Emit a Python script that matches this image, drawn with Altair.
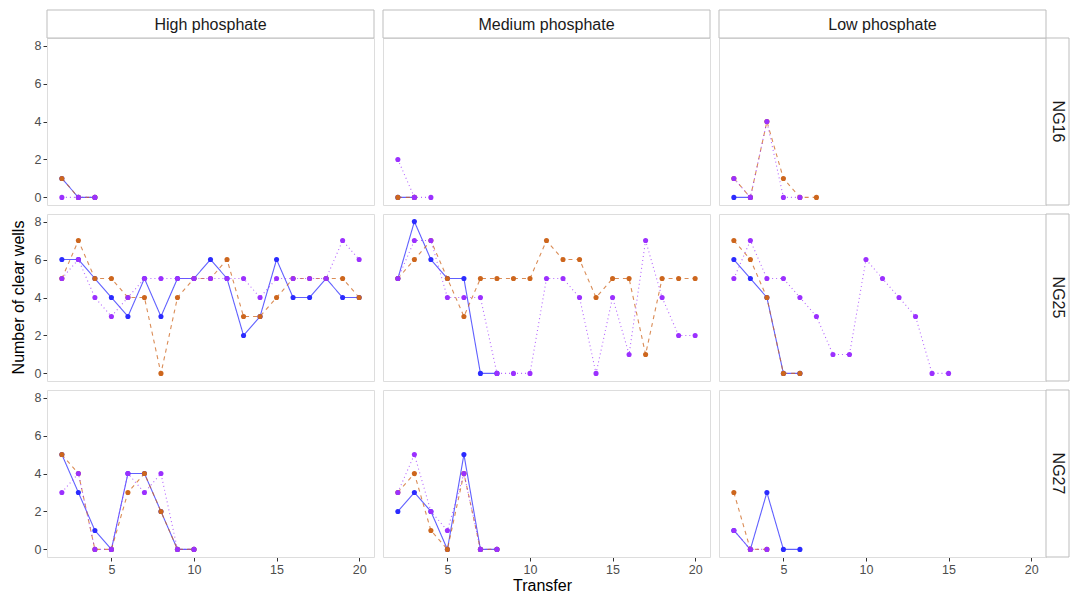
import altair as alt
import pandas as pd

phos_levels = ["High phosphate", "Medium phosphate", "Low phosphate"]
strains = ["NG16", "NG25", "NG27"]
series_names = ["A", "B", "C"]
series_colors = ["#2b2bff", "#cd661d", "#9b30ff"]
series_dashes = [[1, 0], [4, 4], [1, 3]]
x_title = "Transfer"
y_title = "Number of clear wells"
x_ticks = [5, 10, 15, 20]
y_ticks = [0, 2, 4, 6, 8]

# values start at transfer 2
high_ng16_a = [1, 0, 0]
high_ng16_b = [1, 0, 0]
high_ng16_c = [0, 0, 0]
med_ng16_a = [0, 0]
med_ng16_b = [0, 0]
med_ng16_c = [2, 0, 0]
low_ng16_a = [0, 0]
low_ng16_b = [1, 0, 4, 1, 0, 0]
low_ng16_c = [1, 0, 4, 0, 0]

high_ng25_a = [6, 6, 5, 4, 3, 5, 3, 5, 5, 6, 5, 2, 3, 6, 4, 4, 5, 4, 4]
high_ng25_b = [5, 7, 5, 5, 4, 4, 0, 4, 5, 5, 6, 3, 3, 4, 5, 5, 5, 5, 4]
high_ng25_c = [5, 6, 4, 3, 4, 5, 5, 5, 5, 5, 5, 5, 4, 5, 5, 5, 5, 7, 6]
med_ng25_a = [5, 8, 6, 5, 5, 0, 0]
med_ng25_b = [5, 6, 7, 5, 3, 5, 5, 5, 5, 7, 6, 6, 4, 5, 5, 1, 5, 5, 5]
med_ng25_c = [5, 7, 7, 4, 4, 4, 0, 0, 0, 5, 5, 4, 0, 4, 1, 7, 4, 2, 2]
low_ng25_a = [6, 5, 4, 0, 0]
low_ng25_b = [7, 6, 4, 0, 0]
low_ng25_c = [5, 7, 5, 5, 4, 3, 1, 1, 6, 5, 4, 3, 0, 0]

high_ng27_a = [5, 3, 1, 0, 4, 4, 2, 0, 0]
high_ng27_b = [5, 4, 0, 0, 3, 4, 2, 0, 0]
high_ng27_c = [3, 4, 0, 0, 4, 3, 4, 0, 0]
med_ng27_a = [2, 3, 2, 0, 5, 0, 0]
med_ng27_b = [3, 4, 1, 0, 4, 0, 0]
med_ng27_c = [3, 5, 2, 1, 4, 0, 0]
low_ng27_a = [1, 0, 3, 0, 0]
low_ng27_b = [3, 0, 0]
low_ng27_c = [1, 0, 0]

table = {
    ("High phosphate", "NG16"): [high_ng16_a, high_ng16_b, high_ng16_c],
    ("Medium phosphate", "NG16"): [med_ng16_a, med_ng16_b, med_ng16_c],
    ("Low phosphate", "NG16"): [low_ng16_a, low_ng16_b, low_ng16_c],
    ("High phosphate", "NG25"): [high_ng25_a, high_ng25_b, high_ng25_c],
    ("Medium phosphate", "NG25"): [med_ng25_a, med_ng25_b, med_ng25_c],
    ("Low phosphate", "NG25"): [low_ng25_a, low_ng25_b, low_ng25_c],
    ("High phosphate", "NG27"): [high_ng27_a, high_ng27_b, high_ng27_c],
    ("Medium phosphate", "NG27"): [med_ng27_a, med_ng27_b, med_ng27_c],
    ("Low phosphate", "NG27"): [low_ng27_a, low_ng27_b, low_ng27_c],
}

rows = []
for si, s in enumerate(series_names):
    for (p, st), lists in table.items():
        for i, v in enumerate(lists[si]):
            rows.append({"phos": p, "strain": st, "series": s, "transfer": i + 2, "wells": v})
df = pd.DataFrame(rows)

W, H = 327, 167
STRIP = 28
RSTRIP = 23
FONT = "Liberation Sans"

axis_common = dict(grid=False, domain=False, tickColor="#333333", tickSize=4, labelColor="#4d4d4d",
                   labelFontSize=12.5, labelFont=FONT, labelPadding=2)
x_enc = alt.X("transfer:Q", title=None,
              scale=alt.Scale(domain=[1.1, 20.9], nice=False, zero=False),
              axis=alt.Axis(values=x_ticks, **axis_common))
y_enc = alt.Y("wells:Q", title=None,
              scale=alt.Scale(domain=[-0.4, 8.4], nice=False, zero=False),
              axis=alt.Axis(values=y_ticks, **axis_common))
color_enc = alt.Color("series:N", scale=alt.Scale(domain=series_names, range=series_colors), legend=None)

lines = alt.Chart().mark_line(strokeWidth=1.1, opacity=0.75).encode(
    x=x_enc, y=y_enc, color=color_enc,
    strokeDash=alt.StrokeDash("series:N", scale=alt.Scale(domain=series_names, range=series_dashes), legend=None),
)
points = alt.Chart().mark_circle(size=26, opacity=1).encode(
    x=x_enc, y=y_enc, color=color_enc,
)

top_base = alt.Chart().transform_filter(alt.datum.strain == "NG16").transform_aggregate(
    n="count()", groupby=["phos", "strain"])
top_rect = top_base.mark_rect(fill="white", stroke="#bdbdbd", strokeWidth=1).encode(
    x=alt.value(0), x2=alt.value(W), y=alt.value(-STRIP), y2=alt.value(0))
top_text = top_base.mark_text(font=FONT, fontSize=16, color="#1a1a1a", baseline="middle", align="center").encode(
    x=alt.value(W / 2), y=alt.value(-STRIP / 2 + 1), text="phos:N")

right_base = alt.Chart().transform_filter(alt.datum.phos == "Low phosphate").transform_aggregate(
    n="count()", groupby=["phos", "strain"])
right_rect = right_base.mark_rect(fill="white", stroke="#bdbdbd", strokeWidth=1).encode(
    x=alt.value(W), x2=alt.value(W + RSTRIP), y=alt.value(0), y2=alt.value(H))
right_text = right_base.mark_text(font=FONT, fontSize=16, color="#1a1a1a", baseline="middle", align="center",
                                  angle=90).encode(
    x=alt.value(W + RSTRIP / 2), y=alt.value(H / 2), text="strain:N")

ytitle_base = alt.Chart().transform_filter(
    (alt.datum.strain == "NG25") & (alt.datum.phos == "High phosphate")
).transform_aggregate(n="count()", groupby=["phos", "strain"])
ytitle = ytitle_base.mark_text(font=FONT, fontSize=16, color="#000000", baseline="middle", align="center",
                               angle=270).encode(
    x=alt.value(-28), y=alt.value(H / 2), text=alt.value(y_title))

xtitle_base = alt.Chart().transform_filter(
    (alt.datum.strain == "NG27") & (alt.datum.phos == "Medium phosphate")
).transform_aggregate(n="count()", groupby=["phos", "strain"])
xtitle = xtitle_base.mark_text(font=FONT, fontSize=16, color="#000000", baseline="middle", align="center").encode(
    x=alt.value(W / 2 - 4), y=alt.value(H + 29), text=alt.value(x_title))

chart = alt.layer(lines, points, top_rect, top_text, right_rect, right_text, ytitle, xtitle).properties(
    width=W, height=H
).facet(
    row=alt.Row("strain:N", sort=strains, header=alt.Header(labels=False, title=None)),
    column=alt.Column("phos:N", sort=phos_levels, header=alt.Header(labels=False, title=None)),
    data=df,
    spacing={"row": 9, "column": 9},
    bounds="flush",
).properties(
    padding={"left": 10, "top": 9, "right": 0, "bottom": 2}
).configure_view(
    stroke="#bdbdbd", strokeWidth=1
).configure(background="white")

chart.save("out.html", embed_options={"renderer": "svg", "actions": False})
